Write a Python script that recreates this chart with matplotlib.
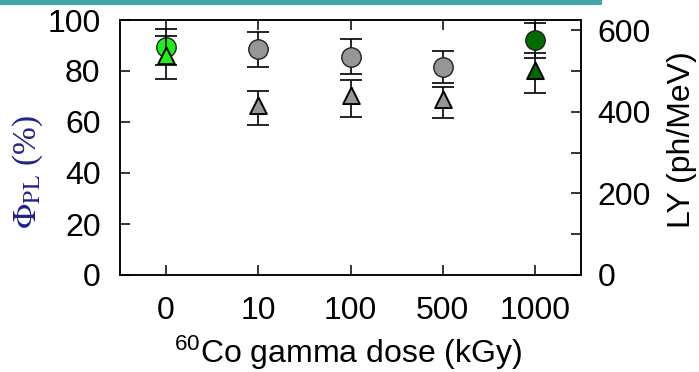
import matplotlib
matplotlib.use("Agg")
import matplotlib.pyplot as plt
from matplotlib.patches import Rectangle

plt.rcParams['font.family'] = ['Liberation Sans', 'DejaVu Sans']
plt.rcParams['mathtext.fontset'] = 'custom'
plt.rcParams['mathtext.rm'] = 'Liberation Sans'
plt.rcParams['mathtext.it'] = 'Liberation Sans:italic'
plt.rcParams['mathtext.bf'] = 'Liberation Sans:bold'

# dose steps (categorical axis)
dose_labels = ['0', '10', '100', '500', '1000']
# PL quantum yield (%), left axis
plqy = [89.3, 88.5, 85.6, 81.6, 92.0]
plqy_err = [7.0, 6.9, 6.9, 6.4, 7.0]
# light yield (ph/MeV), right axis
ly = [533, 409, 433, 423, 495]
ly_err = [53, 41, 45, 39, 48]
point_colors = ['#1ef01e', '#969696', '#969696', '#969696', '#006b00']

W, H = 699, 372
fig = plt.figure(figsize=(W / 100, H / 100), dpi=100)
ax1 = fig.add_axes([120 / W, 1 - 275 / H, 461 / W, 255 / H])
ax2 = ax1.twinx()

x = list(range(len(dose_labels)))

# triangle centred on its centroid
tri = [(0, 2 / 3), (-0.5, -1 / 3), (0.5, -1 / 3), (0, 2 / 3)]

for i in x:
    ax1.errorbar(x[i], plqy[i], yerr=plqy_err[i], fmt='none', ecolor='black',
                 elinewidth=1.2, capsize=8, capthick=1.2, zorder=2)
    ax1.plot(x[i], plqy[i], 'o', ms=14, mfc=point_colors[i], mec='#222222',
             mew=1.0, zorder=3)
    ax2.errorbar(x[i], ly[i], yerr=ly_err[i], fmt='none', ecolor='black',
                 elinewidth=1.2, capsize=8, capthick=1.2, zorder=2)
    ax2.plot(x[i], ly[i], marker=tri, ls='none', ms=16, mfc=point_colors[i],
             mec='black', mew=1.4, zorder=3)

ax1.set_xlim(-0.5, 4.5)
ax1.set_ylim(0, 100)
ax2.set_ylim(0, 625)

ax1.set_xticks(x)
ax1.set_xticklabels(dose_labels)
ax1.set_yticks([0, 20, 40, 60, 80, 100])
ax2.set_yticks([0, 100, 200, 300, 400, 500, 600])
ax2.set_yticklabels(['0', '', '200', '', '400', '', '600'])

ax1.tick_params(axis='both', direction='in', length=7.2, width=1.1, labelsize=23)
ax1.tick_params(axis='x', top=True, pad=15)
ax1.tick_params(axis='y', pad=14)
ax2.tick_params(axis='y', direction='in', length=7.2, width=1.1, labelsize=23, pad=12)

for ax in (ax1, ax2):
    for s in ax.spines.values():
        s.set_linewidth(1.1)

fig.text(28 / W, 1 - 172 / H, r'$\Phi_{\rm PL}$ (%)', rotation=90, color='#22228a',
         fontsize=24, family='Liberation Serif', math_fontfamily='stix',
         ha='center', va='center')
fig.text(682 / W, 1 - 140 / H, 'LY (ph/MeV)', rotation=90, fontsize=23,
         ha='center', va='center')
fig.text(348 / W, 1 - 363 / H, r'$^{60}$Co gamma dose (kGy)', fontsize=23,
         ha='center', va='baseline')

# header strip
fig.patches.append(Rectangle((0, 1 - 4.5 / H), 602 / W, 4.5 / H,
                             transform=fig.transFigure, color='#45a6aa', lw=0))

fig.savefig('out.png', dpi=100)
